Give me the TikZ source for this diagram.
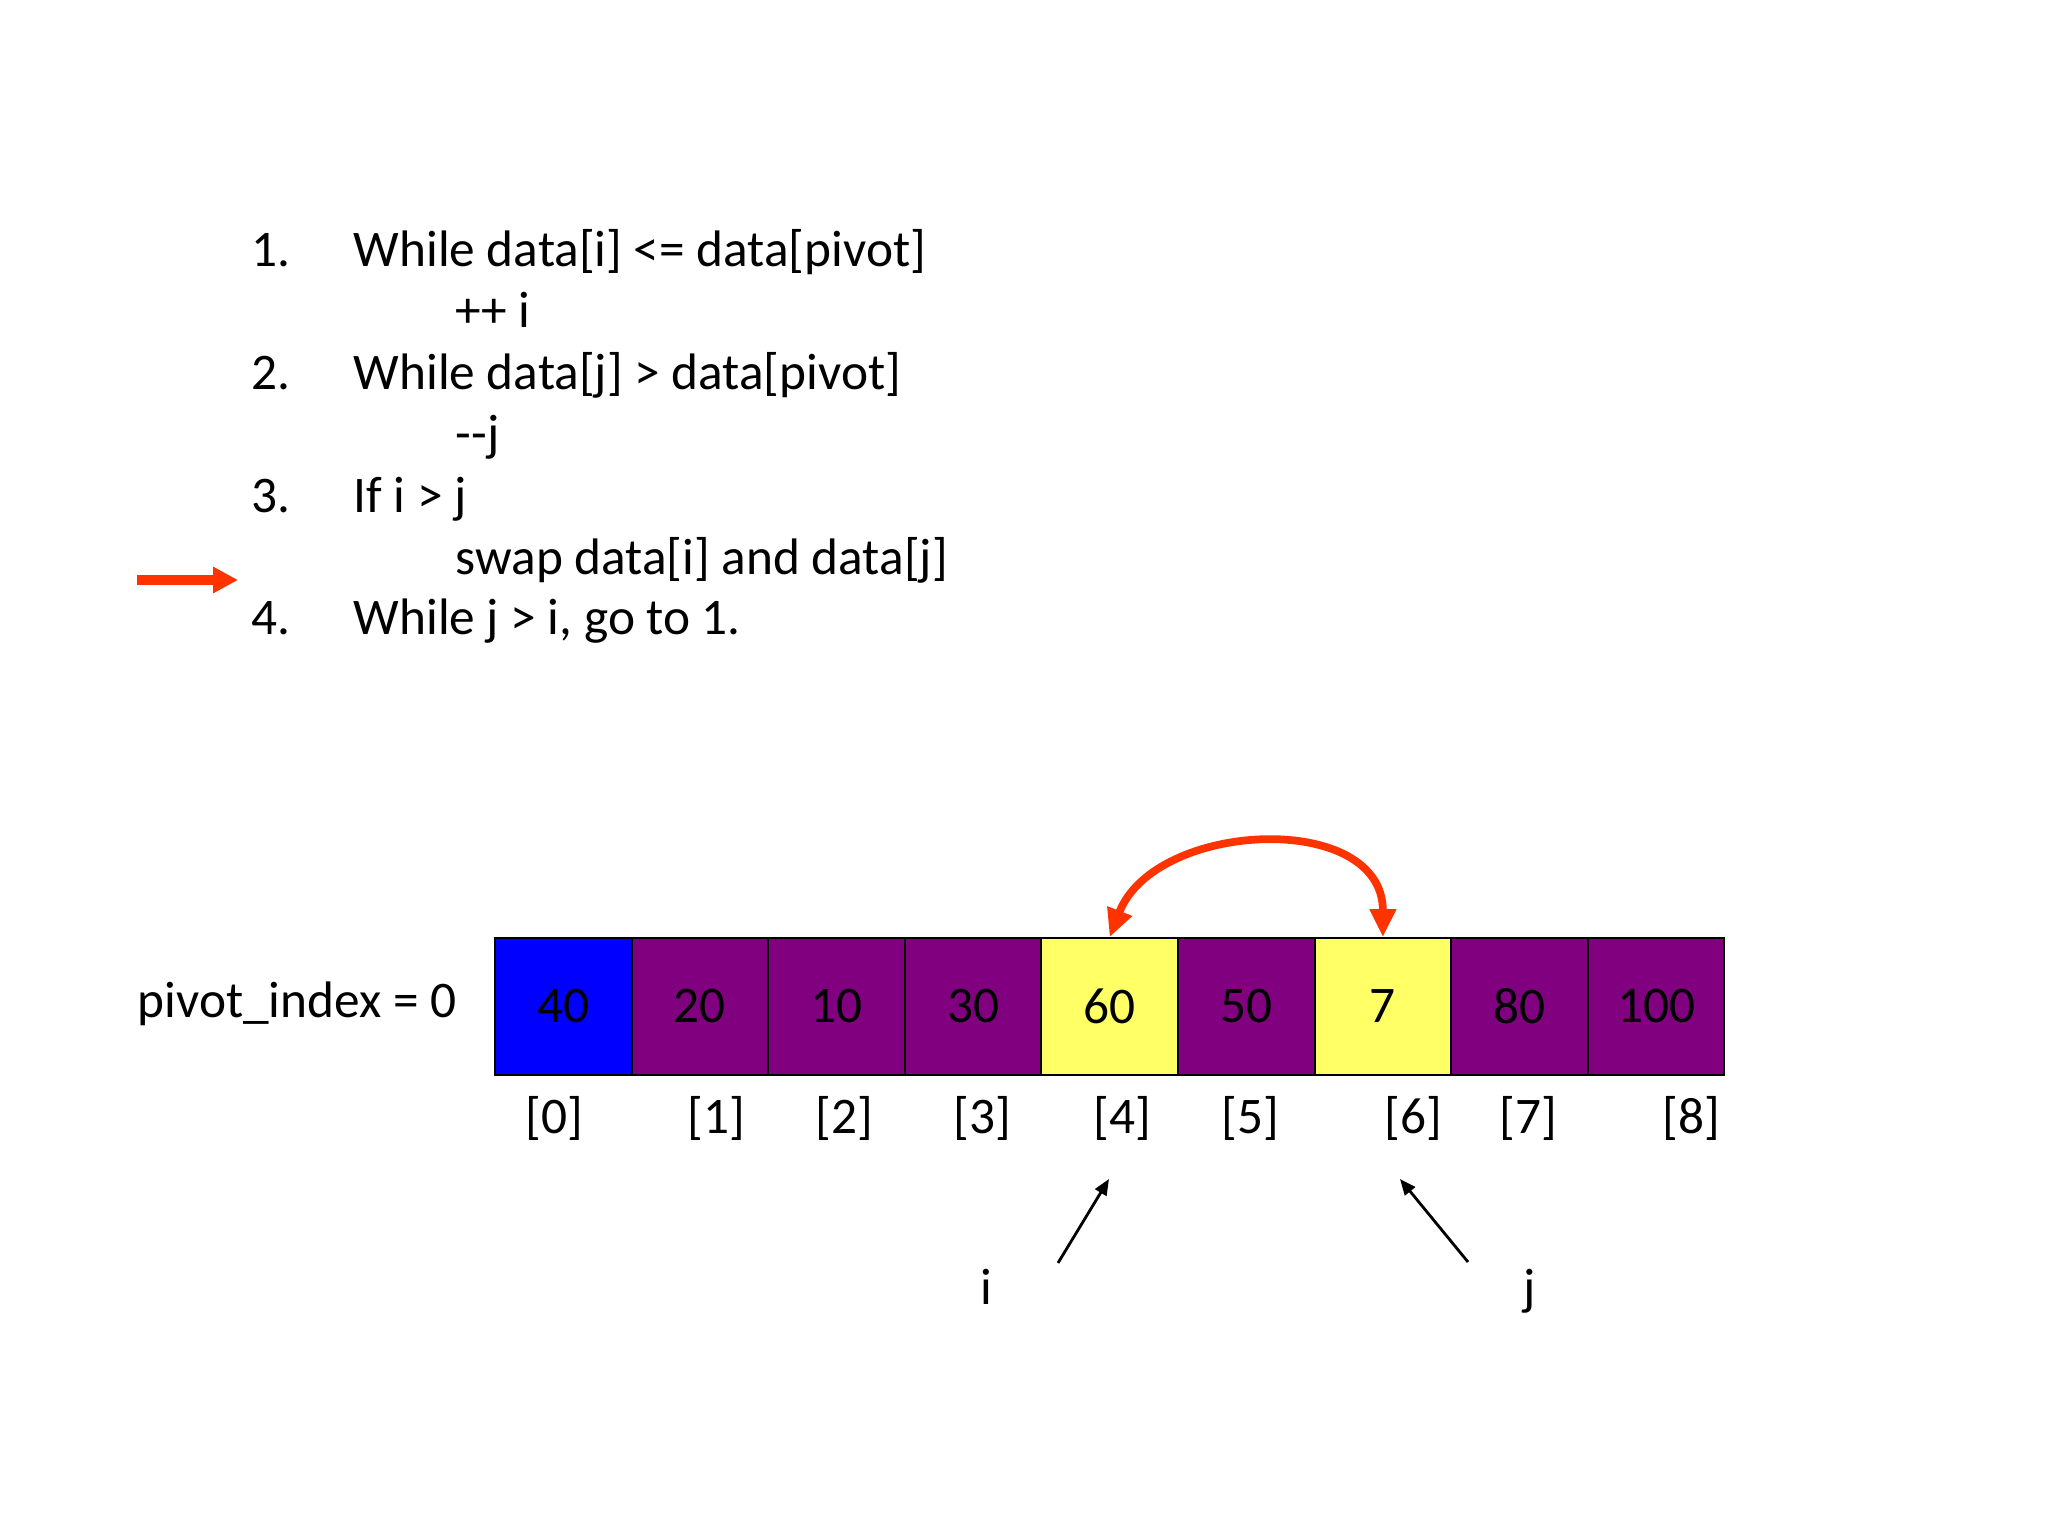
\documentclass[tikz,border=0pt]{standalone}
\usepackage{fontspec}
\setmainfont{Carlito}
\usetikzlibrary{arrows.meta}

\definecolor{swapred}{HTML}{FF3300}
\definecolor{cellpurple}{HTML}{800080}
\definecolor{cellyellow}{HTML}{FFFF66}

\tikzset{
	slidetext/.style={font=\fontsize{14.6}{17.5}\selectfont, inner sep=0pt},
	codeline/.style={slidetext, anchor=base west},
	cell/.style={draw, line width=0.6pt, minimum size=1.366cm, inner sep=0pt, slidetext},
	swaparrow/.style={swapred, line width=2.2pt, {Triangle[length=0.28cm,width=0.25cm]}-{Triangle[length=0.28cm,width=0.25cm]}},
	pointer/.style={line width=0.8pt, -{Triangle[length=0.16cm,width=0.13cm]}}
}

\begin{document}
\begin{tikzpicture}
		
		\useasboundingbox (0,0) rectangle (20.48,-15.36);
		
		%Steps of the partition
		\node (num1) at (2.51,-2.67) [codeline]{1.};
		\node (step1) at (3.53,-2.67) [codeline]{While data[i] <= data[pivot]};
		\node (step1b) at (4.55,-3.28) [codeline]{++ i};
		
		\node (num2) at (2.51,-3.90) [codeline]{2.};
		\node (step2) at (3.53,-3.90) [codeline]{While data[j] > data[pivot]};
		\node (step2b) at (4.55,-4.51) [codeline]{-{}-j};
		
		\node (num3) at (2.51,-5.12) [codeline]{3.};
		\node (step3) at (3.53,-5.12) [codeline]{If i > j};
		\node (step3b) at (4.55,-5.74) [codeline]{swap data[i] and data[j]};
		
		\node (num4) at (2.51,-6.35) [codeline]{4.};
		\node (step4) at (3.53,-6.35) [codeline]{While j > i, go to 1.};
		
		%Current step marker
		\coordinate (markTail) at (1.37,-5.80);
		\coordinate (markTip) at (2.38,-5.80);
		\draw[swapred, line width=2.85pt, -{Triangle[length=0.25cm,width=0.25cm]}] (markTail) -- (markTip);
		
		%Array
		\node (pivot) at (4.57,-10.17) [slidetext, anchor=base east]{pivot\_index = 0};
		
		\foreach \k/\v/\col in {0/40/blue, 1/20/cellpurple, 2/10/cellpurple, 3/30/cellpurple, 
		4/60/cellyellow, 5/50/cellpurple, 6/7/cellyellow, 7/80/cellpurple, 8/100/cellpurple}
		\node (c\k) at ({4.95+(\k+0.5)*1.366},-10.065) [cell, fill=\col]{\v};
		
		%Indices
		\foreach \k/\x in {0/5.54, 1/7.16, 2/8.44, 3/9.82, 4/11.22, 5/12.50, 6/14.13, 7/15.28, 
		8/16.91}
		\node (idx\k) at (\x,-11.33) [slidetext, anchor=base]{[\k]};
		
		%Swap
		\draw[swaparrow] (c4.north) .. controls (11.55,-8.2) and (13.83,-8.1) .. (c6.north);
		
		%Pointers
		\node (ilabel) at (9.86,-13.04) [slidetext, anchor=base]{i};
		\node (jlabel) at (15.30,-13.04) [slidetext, anchor=base]{j};
		
		\coordinate (iTail) at (10.58,-12.63);
		\coordinate (iTip) at (11.09,-11.79);
		\coordinate (jTail) at (14.68,-12.62);
		\coordinate (jTip) at (14.00,-11.79);
		
		\draw[pointer] (iTail) -- (iTip);
		\draw[pointer] (jTail) -- (jTip);
		
\end{tikzpicture}
\end{document}
